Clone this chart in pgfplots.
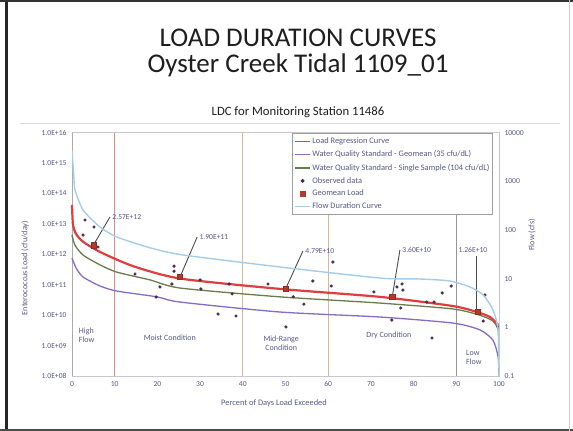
\documentclass[border=0pt]{standalone}
\usepackage{fontspec}
\setmainfont{Carlito}
\usepackage{pgfplots}
\pgfplotsset{compat=1.18}
\definecolor{regred}{RGB}{222,62,62}
\definecolor{wqpurple}{RGB}{135,108,195}
\definecolor{wqgreen}{RGB}{105,125,75}
\definecolor{flowblue}{RGB}{165,205,235}
\definecolor{obsdot}{RGB}{78,38,78}
\definecolor{gmload}{RGB}{178,58,42}
\definecolor{txtc}{RGB}{88,88,138}
\definecolor{axc}{RGB}{200,200,206}
\definecolor{titc}{RGB}{30,30,30}
\definecolor{vred}{RGB}{222,140,130}
\definecolor{vtan}{RGB}{220,180,145}
\definecolor{vgray}{RGB}{150,150,150}
\newcommand{\tk}{\fontsize{7.6}{8}\selectfont}
\newcommand{\rl}{\fontsize{8}{9}\selectfont}
\begin{document}
\begin{tikzpicture}
\path[use as bounding box] (0pt,0pt) rectangle (573pt,431pt);
\fill[white] (0pt,0pt) rectangle (573pt,431pt);
% slide frame
\draw[line width=3pt, black!85] (6pt,0pt) -- (6pt,431pt);
\draw[line width=2pt, black!80] (0pt,429.5pt) -- (573pt,429.5pt);
\draw[line width=1.5pt, black!70] (0pt,1pt) -- (573pt,1pt);
\draw[gray!40] (569pt,0pt) -- (569pt,431pt);
% titles
\node[anchor=base, font=\fontsize{27}{28}\selectfont, text=titc, inner sep=0] at (298pt,384pt) {LOAD DURATION CURVES};
\node[anchor=base, font=\fontsize{27}{28}\selectfont, text=titc, inner sep=0] at (298pt,358pt) {Oyster Creek Tidal 1109\_01};
\node[anchor=base, font=\fontsize{12.7}{13}\selectfont, text=titc, inner sep=0] at (298pt,315pt) {LDC for Monitoring Station 11486};
\draw[gray!30] (20pt,308pt) -- (560pt,308pt);

\begin{axis}[
  at={(72pt,55pt)}, anchor=south west, scale only axis,
  width=427pt, height=243.3pt,
  xmin=0, xmax=100, ymode=log, ymin=1e8, ymax=1e16,
  axis line style={axc},
  xtick={0,10,...,100},
  xticklabels={0,10,20,30,40,50,60,70,80,90,100},
  ytick={1e8,1e9,1e10,1e11,1e12,1e13,1e14,1e15,1e16},
  yticklabels={1.0E+08,1.0E+09,1.0E+10,1.0E+11,1.0E+12,1.0E+13,1.0E+14,1.0E+15,1.0E+16},
  xtick pos=bottom, ytick pos=left,
  major tick length=0pt, minor tick length=0pt,
  tick label style={font=\tk, text=txtc},
  yticklabel style={xshift=-2pt},
  xticklabel style={yshift=-2pt},
  clip=false,
]
% condition boundaries
\addplot[vred, line width=0.8pt] coordinates {(10,1e8) (10,1e16)};
\addplot[vtan, line width=0.8pt] coordinates {(40,1e8) (40,1e16)};
\addplot[vtan, line width=0.8pt] coordinates {(60,1e8) (60,1e16)};
\addplot[vgray, line width=0.8pt] coordinates {(90,1e8) (90,1e16)};
\addplot[vgray!80, line width=0.8pt] coordinates {(0,1e8) (0,1e16)};
% WQS geomean
\addplot[wqpurple, line width=1.3pt, smooth, tension=0.4] coordinates {
 (0,7.6e11) (0.94,3.6e11) (2.58,1.8e11) (6.56,9.1e10) (10.5,6.2e10) (19.9,4.0e10)
 (25.3,2.7e10) (48.7,1.27e10) (72.1,8.7e9) (89.2,5.5e9) (95.5,3.3e9) (98.6,1.5e9)
 (99.8,4.2e8) (100,1e8)};
% WQS single sample
\addplot[wqgreen, line width=1.3pt, smooth, tension=0.4] coordinates {
 (0,4.3e12) (0.7,2.0e12) (2.58,9.5e11) (6.56,4.5e11) (10.5,2.6e11) (18.3,1.44e11)
 (25.3,7.8e10) (48.7,4.0e10) (72.1,2.5e10) (89.2,1.6e10) (95.5,1.0e10) (98.6,6.4e9)
 (99.8,3.3e9) (100,1.0e9)};
% load regression
\addplot[regred, line width=2.2pt, smooth, tension=0.4] coordinates {
 (0,4.2e13) (0.23,9.3e12) (0.94,4.7e12) (2.58,2.6e12) (6.56,1.2e12) (14.3,4.1e11)
 (25.3,1.6e11) (48.7,7.3e10) (72.1,4.0e10) (89.2,2.0e10) (94.8,1.27e10)
 (97.9,8.7e9) (99.8,4.8e9)};
% observed data
\addplot[only marks, mark=*, mark size=1.4pt, color=obsdot] coordinates {
 (3.04,1.35e13) (5.15,7.9e12) (2.58,4.3e12) (6.09,1.75e12) (14.75,2.26e11) (20.6,8.5e10)
 (23.4,1.06e11) (19.7,3.96e10) (23.9,4.1e11) (23.9,2.8e11) (30.0,1.44e11) (36.8,1.06e11)
 (45.9,1.06e11) (56.4,1.33e11) (61.1,5.6e11) (60.7,9.1e10) (70.7,5.8e10) (30.2,7.3e10)
 (37.5,5.0e10) (51.8,4.0e10) (54.3,2.3e10) (34.2,1.09e10) (38.4,9.4e9) (50.1,4.1e9)
 (76.1,8.5e10) (77.3,1.06e11) (77.5,6.7e10) (77.0,1.72e10) (74.9,6.9e9) (83.1,2.7e10)
 (84.8,2.7e10) (86.7,5.4e10) (88.8,9.1e10) (96.7,4.6e10) (96.3,6.4e9) (84.3,1.78e9)
 (99.8,4.1e9)};
% geomean loads
\addplot[only marks, mark=square*, mark size=2.6pt, color=gmload, mark options={draw=gmload!80!black}] coordinates {
 (5,2.0e12) (25.3,1.8e11) (50,7.2e10) (75,4.0e10) (95,1.27e10)};
% leaders and data labels
\draw[black!70, line width=0.9pt] (axis cs:5,2.0e12) -- (axis cs:8.9,1.7e13);
\node[anchor=west, font=\tk, text=txtc, inner sep=1pt] at (axis cs:9.2,1.7e13) {2.57E+12};
\draw[black!70, line width=0.9pt] (axis cs:25.3,1.8e11) -- (axis cs:29.3,3.7e12);
\node[anchor=west, font=\tk, text=txtc, inner sep=1pt] at (axis cs:29.6,3.7e12) {1.90E+11};
\draw[black!70, line width=0.9pt] (axis cs:50,7.2e10) -- (axis cs:54.1,1.3e12);
\node[anchor=west, font=\tk, text=txtc, inner sep=1pt] at (axis cs:54.4,1.3e12) {4.79E+10};
\draw[black!70, line width=0.9pt] (axis cs:75,4.0e10) -- (axis cs:76.8,1.4e12);
\node[anchor=west, font=\tk, text=txtc, inner sep=1pt] at (axis cs:77.1,1.4e12) {3.60E+10};
\draw[black!70, line width=0.9pt] (axis cs:94.8,1.27e10) -- (axis cs:94.8,9e11);
\node[anchor=south, font=\tk, text=txtc, inner sep=1pt] at (axis cs:93.9,1.05e12) {1.26E+10};
% region labels
\node[anchor=west, align=left, font=\rl, text=txtc] at (axis cs:0.8,2.2e9) {High\\Flow};
\node[font=\rl, text=txtc] at (axis cs:22.9,1.78e9) {Moist Condition};
\node[align=center, font=\rl, text=txtc] at (axis cs:49,1.23e9) {Mid-Range\\Condition};
\node[font=\rl, text=txtc] at (axis cs:74.2,2.2e9) {Dry Condition};
\node[anchor=west, align=left, font=\rl, text=txtc] at (axis cs:91.5,4.2e8) {Low\\Flow};
\end{axis}

\begin{axis}[
  at={(72pt,55pt)}, anchor=south west, scale only axis,
  width=427pt, height=243.3pt,
  xmin=0, xmax=100, ymode=log, ymin=0.1, ymax=10000,
  axis y line*=right, axis x line=none,
  axis line style={axc},
  ytick={0.1,1,10,100,1000,10000},
  yticklabels={0.1,1,10,100,1000,10000},
  major tick length=0pt, minor tick length=0pt,
  tick label style={font=\tk, text=txtc},
  yticklabel style={xshift=2pt},
  legend image code/.code={\draw[mark repeat=2,mark phase=2,#1] plot coordinates {(0pt,0pt) (7.5pt,0pt) (15pt,0pt)};},
  legend style={at={(0.515,0.999)}, anchor=north west, draw=gray!75, line width=0.9pt,
    fill=white, font=\fontsize{8.4}{9}\selectfont, text=txtc, row sep=2.4pt,
    inner xsep=2pt, inner ysep=2.8pt, nodes={inner xsep=1.5pt, inner ysep=1.6pt}},
  legend cell align=left,
]
\addlegendimage{regred, line width=1.5pt}
\addlegendentry{Load Regression Curve}
\addlegendimage{wqpurple, line width=1.3pt}
\addlegendentry{Water Quality Standard - Geomean (35 cfu/dL)}
\addlegendimage{wqgreen, line width=1.5pt}
\addlegendentry{Water Quality Standard - Single Sample (104 cfu/dL)}
\addlegendimage{only marks, mark=*, mark size=1.4pt, color=obsdot}
\addlegendentry{Observed data}
\addlegendimage{only marks, mark=square*, mark size=2.6pt, color=gmload}
\addlegendentry{Geomean Load}
\addplot[flowblue, line width=1.4pt, smooth, tension=0.4] coordinates {
 (0,4400) (0.47,1070) (0.7,664) (2.58,258) (6.56,115) (10.5,72) (18.3,43) (26,30.7)
 (48.7,17.4) (72.1,10.3) (81.5,9.85) (88.5,8.96) (93.2,6.75) (96.3,4.62) (98.6,2.27)
 (99.8,0.88) (100,0.1)};
\addlegendentry{Flow Duration Curve}
\end{axis}

\node[rotate=90, font=\fontsize{8.2}{9}\selectfont, text=txtc] at (25pt,163pt) {Enterococcus Load (cfu/day)};
\node[rotate=90, font=\fontsize{8.2}{9}\selectfont, text=txtc] at (532pt,196pt) {Flow (cfs)};
\node[font=\fontsize{8.4}{9}\selectfont, text=txtc] at (274pt,28pt) {Percent of Days Load Exceeded};
\end{tikzpicture}
\end{document}
